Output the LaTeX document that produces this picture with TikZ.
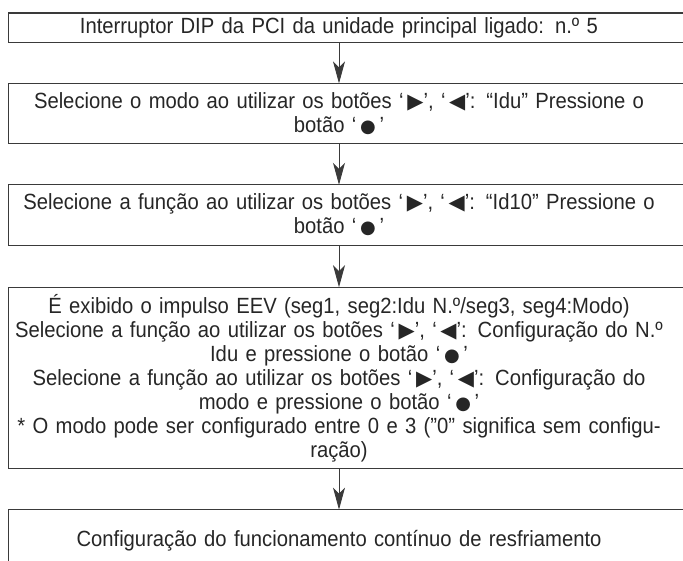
\documentclass[tikz,border=0pt]{standalone}
\usepackage{fontspec}
\usepackage{tikz}
\setmainfont[FakeStretch=0.92, WordSpace=1.3]{Liberation Sans}
\newfontfamily\symfont{DejaVu Sans}
\usetikzlibrary{arrows.meta, positioning}
\definecolor{flowline}{HTML}{3A3A3A}
\definecolor{flowtext}{HTML}{262626}
\newcommand{\btnright}{\,{\symfont\fontsize{21}{21}\selectfont ▶}}
\newcommand{\btnleft}{\,{\symfont\fontsize{21}{21}\selectfont ◀}}
\newcommand{\btnok}{\,{\symfont\fontsize{18}{18}\selectfont ●}\,}
\tikzset{
  stepbox/.style={minimum width=660pt, text width=656pt, align=center, inner sep=0pt,
    font=\fontsize{22}{24}\selectfont, text=flowtext},
  stepframe/.style={draw=flowline, line width=1.2pt},
  steparrow/.style={draw=flowline, line width=0.9pt, -{Stealth[length=22pt, width=12pt, inset=6pt]}}
}

\begin{document}
\begin{tikzpicture}[x=1pt, y=1pt]
\useasboundingbox (0,0) rectangle (683,-561);
\clip (0,0) rectangle (683,-561);
% steps of the procedure
\node[stepbox, minimum height=29pt, anchor=north] (s1) at (339,-13)
  {Interruptor DIP da PCI da unidade principal ligado: n.º 5};
\node[stepbox, minimum height=60pt, below=41pt of s1] (s2)
  {Selecione o modo ao utilizar os botões ‘\btnright’, ‘\btnleft’: “Idu” Pressione o\\
   botão ‘\btnok’};
\node[stepbox, minimum height=60pt, below=41pt of s2] (s3)
  {Selecione a função ao utilizar os botões ‘\btnright’, ‘\btnleft’: “Id10” Pressione o\\
   botão ‘\btnok’};
\node[stepbox, minimum height=181pt, below=42pt of s3] (s4)
  {É exibido o impulso EEV (seg1, seg2:Idu N.º/seg3, seg4:Modo)\\
   Selecione a função ao utilizar os botões ‘\btnright’, ‘\btnleft’: Configuração do N.º\\
   Idu e pressione o botão ‘\btnok’\\
   Selecione a função ao utilizar os botões ‘\btnright’, ‘\btnleft’: Configuração do\\
   modo e pressione o botão ‘\btnok’\\
   {*} O modo pode ser configurado entre 0 e 3 ("0" significa sem configu-\\
   ração)};
\node[stepbox, minimum height=62pt, below=41pt of s4] (s5)
  {Configuração do funcionamento contínuo de resfriamento};
% frames run past the right edge
\foreach \n in {s1,s2,s3,s4,s5}
  \draw[stepframe] (\n.south west) rectangle ([xshift=40pt]\n.north east);
\foreach \a/\b in {s1/s2,s2/s3,s3/s4,s4/s5}
  \draw[steparrow] (\a) -- (\b);
\end{tikzpicture}
\end{document}
